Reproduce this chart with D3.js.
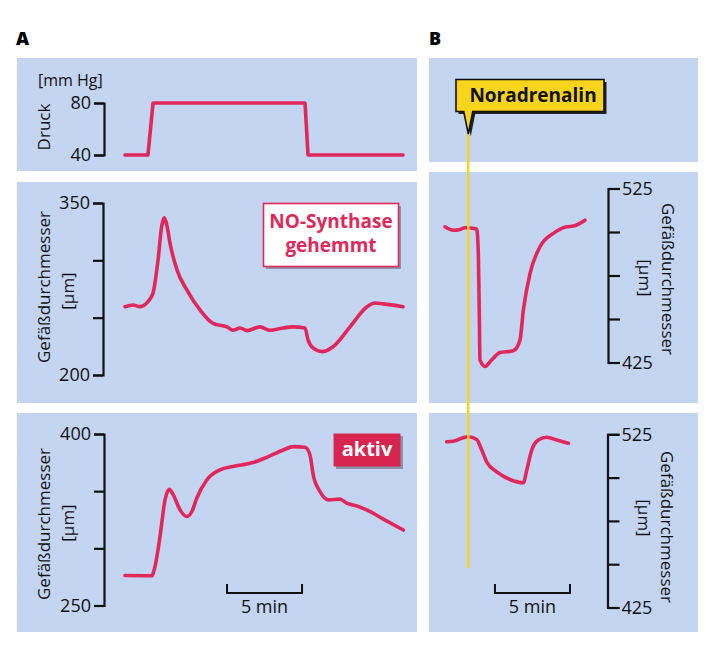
<!DOCTYPE html>
<html><head><meta charset="utf-8">
<script src="https://cdn.jsdelivr.net/npm/d3@7"></script>
<style>body{margin:0;background:#fff}svg{display:block}</style>
</head><body>
<svg id="c" width="721" height="652"></svg>
<script>
// ---------- DATA ----------
// time in minutes, values in units of the axes
const pressureTime  = [0, 1.53, 1.87, 12.0, 12.2, 18.53];
const pressureValue = [40, 40, 80, 80, 40, 40];
const pressureTicks = [40, 80];

const aInhibitedTime  = [0,0.53,1.0,1.53,1.87,2.2,2.45,2.62,2.8,3.0,3.47,4.13,5.0,5.87,6.8,7.2,7.67,8.13,9.0,9.67,10.53,11.2,12.0,12.2,12.53,13.13,13.87,15.0,16.13,16.67,17.2,18.53];
const aInhibitedValue = [259.6,261,259.6,264,271.5,300,330,337,330,315,291.5,274,256.7,245,242,239,241,238.7,242,239,241,242,241,230.6,223.6,220.4,224.7,242,259.6,262.8,262,259.6];
const aInhibitedTicks = [200, 250, 300, 350];

const aActiveTime  = [0,1.78,2.0,2.33,2.67,2.95,3.22,3.67,4.11,4.45,4.78,5.45,6.33,7.2,8.53,9.45,10.55,11.22,12.0,12.33,12.55,13.0,13.55,14.33,14.78,15.45,16.11,17.22,18.55];
const aActiveValue = [276.2,276,284,310,342.4,351.7,346.7,333.6,327.8,332,343.8,359.8,368.6,371.5,375,379.6,386,389,388.4,381.6,364,349.6,342.4,343,339.5,337,333.6,325.5,316];
const aActiveTicks = [250, 300, 350, 400];

const bInhibitedTime  = [0,0.55,1.0,1.33,2.11,2.22,2.29,2.33,2.67,3.11,3.67,4.55,5.0,5.22,5.67,6.33,7.22,8.11,8.55,9.33];
const bInhibitedValue = [503,501,501.5,502.4,501.7,488,449.5,426.5,422.7,426.5,430.7,431.7,438,455,476.3,491.5,499.2,503,503.4,506.8];

const bActiveTime  = [0.11,0.55,1.11,1.55,2.11,2.45,2.78,3.45,4.33,5.22,5.45,5.78,6.22,6.78,7.45,8.22];
const bActiveValue = [520.7,521,522.7,523.6,522,515.9,509,503.3,498.9,497,504.3,515.9,521.7,523.3,521.7,519.8];
const bTicks = [425, 450, 475, 500, 525];

const noradrenalinTime = 1.55;
const aScaleBar = [6.8, 11.8];
const bScaleBar = [3.33, 8.33];

const yLabel = "Gefäßdurchmesser";
const yUnit = "[µm]";

// ---------- STYLE ----------
const FONT = "'Open Sans','Noto Sans',sans-serif";
const WT = 500;
const BG = "#c4d5f1";
const RED = "#e2275b";
const YEL = "#f8d41c";

const svg = d3.select("#c");
svg.append("rect").attr("width",721).attr("height",652).attr("fill","#fff");

// panels
const panels = [
  [17,58,400,113],[17,182,400,221],[17,413,400,219],
  [429,58,269,104],[429,172,269,231],[429,413,269,219]
];
panels.forEach(p=>svg.append("rect").attr("x",p[0]).attr("y",p[1]).attr("width",p[2]).attr("height",p[3]).attr("fill",BG));

// panel letters
svg.append("text").attr("x",16).attr("y",45).text("A").attr("font-family",FONT).attr("font-weight",800).attr("font-size",18);
svg.append("text").attr("x",429).attr("y",45).text("B").attr("font-family",FONT).attr("font-weight",800).attr("font-size",18);

// scales
const xA = d3.scaleLinear().domain([0, 18.53]).range([125, 403]);
const xB = d3.scaleLinear().domain([0, 9.33]).range([445, 585]);
const yP = d3.scaleLinear().domain([40, 80]).range([155, 103]);
const yA2 = d3.scaleLinear().domain([200, 350]).range([375, 203]);
const yA3 = d3.scaleLinear().domain([250, 400]).range([605.5, 434]);
const yB2 = d3.scaleLinear().domain([425, 525]).range([362.5, 188.5]);
const yB3 = d3.scaleLinear().domain([425, 525]).range([607.5, 434.3]);

function styleAxis(g){
  g.selectAll("path,line").attr("stroke","#111").attr("stroke-width",2.2);
  g.selectAll("text").attr("font-family",FONT).attr("font-weight",WT).attr("font-size",18).attr("fill","#111");
}
function leftAxis(y, ticks, x){
  const ends = [d3.min(ticks), d3.max(ticks)];
  const ax = d3.axisLeft(y).tickValues(ticks).tickSize(10).tickSizeOuter(10).tickPadding(3)
    .tickFormat(d=> ends.includes(d) ? d : "");
  const g = svg.append("g").attr("transform",`translate(${x},0)`).call(ax);
  styleAxis(g);
}
function rightAxis(y, ticks, x){
  const ends = [d3.min(ticks), d3.max(ticks)];
  const ax = d3.axisRight(y).tickValues(ticks).tickSize(12).tickSizeOuter(12).tickPadding(2)
    .tickFormat(d=> ends.includes(d) ? d : "");
  const g = svg.append("g").attr("transform",`translate(${x},0)`).call(ax);
  styleAxis(g);
}
leftAxis(yP, pressureTicks, 104);
leftAxis(yA2, aInhibitedTicks, 103);
leftAxis(yA3, aActiveTicks, 104);
rightAxis(yB2, bTicks, 608);
rightAxis(yB3, bTicks, 607.5);

// axis titles
function rot(x, y, angle, txt, size, len){
  const t = svg.append("text").attr("transform",`translate(${x},${y}) rotate(${angle})`)
    .attr("text-anchor","middle").attr("font-family",FONT).attr("font-weight",WT).attr("font-size",size).attr("fill","#111").text(txt);
  if(len) t.attr("textLength",len).attr("lengthAdjust","spacingAndGlyphs");
  return t;
}
svg.append("text").attr("x",38).attr("y",86).attr("font-family",FONT).attr("font-weight",WT).attr("font-size",16).attr("fill","#111").text("[mm Hg]");
rot(50, 127, -90, "Druck", 17);
rot(50, 287, -90, yLabel, 17, 152);
rot(74, 291, -90, yUnit, 17);
rot(50, 524, -90, yLabel, 17, 152);
rot(74, 523, -90, yUnit, 17);
rot(662, 279, 90, yLabel, 17, 152);
rot(639, 278, 90, yUnit, 17);
rot(661, 527, 90, yLabel, 17, 152);
rot(638, 518, 90, yUnit, 17);

// curves
function curve(xs, ys, xsc, ysc, curveType){
  const pts = xs.map((t,i)=>[t, ys[i]]);
  const line = d3.line().x(d=>xsc(d[0])).y(d=>ysc(d[1])).curve(curveType);
  svg.append("path").attr("d", line(pts)).attr("fill","none").attr("stroke",RED)
    .attr("stroke-width",3.6).attr("stroke-linejoin","round").attr("stroke-linecap","round");
}
curve(pressureTime, pressureValue, xA, yP, d3.curveLinear);
curve(aInhibitedTime, aInhibitedValue, xA, yA2, d3.curveMonotoneX);
curve(aActiveTime, aActiveValue, xA, yA3, d3.curveMonotoneX);
curve(bInhibitedTime, bInhibitedValue, xB, yB2, d3.curveMonotoneX);
curve(bActiveTime, bActiveValue, xB, yB3, d3.curveMonotoneX);

// scale bars
function scaleBar(xsc, range){
  const x0 = xsc(range[0]), x1 = xsc(range[1]);
  svg.append("path").attr("d",`M${x0},584V593H${x1}V584`).attr("fill","none").attr("stroke","#111").attr("stroke-width",2);
  svg.append("text").attr("x",(x0+x1)/2).attr("y",613).attr("text-anchor","middle")
    .attr("font-family",FONT).attr("font-weight",WT).attr("font-size",18).attr("fill","#111").text("5 min");
}
scaleBar(xA, aScaleBar);
scaleBar(xB, bScaleBar);

// annotation boxes
function box(x,y,w,h,fill,stroke,shadow,sdx){
  svg.append("rect").attr("x",x+sdx).attr("y",y+sdx).attr("width",w).attr("height",h).attr("fill",shadow);
  svg.append("rect").attr("x",x).attr("y",y).attr("width",w).attr("height",h).attr("fill",fill)
    .attr("stroke",stroke).attr("stroke-width",stroke==="none"?0:1.6);
}
box(263.5,203.5,135,63,"#fff",RED,"#8a93a8",2.5);
const t1 = svg.append("text").attr("text-anchor","middle").attr("font-family",FONT).attr("font-weight",700)
  .attr("font-size",19).attr("fill",RED);
t1.append("tspan").attr("x",331).attr("y",228).text("NO-Synthase");
t1.append("tspan").attr("x",331).attr("y",252).text("gehemmt");

box(333.5,433.5,67,33,"#d8254f","none","#8a93a8",2.5);
svg.append("text").attr("x",367).attr("y",456).attr("text-anchor","middle").attr("font-family",FONT)
  .attr("font-weight",700).attr("font-size",20).attr("fill","#fff").text("aktiv");

// noradrenalin marker
const nx = xB(noradrenalinTime);
svg.append("line").attr("x1",nx).attr("x2",nx).attr("y1",130).attr("y2",568)
  .attr("stroke",YEL).attr("stroke-width",2.4);
const cp = `M456,79.5H604V111.5H${nx+4.5}L${nx},134L${nx-4.5},111.5H456Z`;
svg.append("path").attr("d",cp).attr("transform","translate(2.5,2.5)").attr("fill","#222");
svg.append("path").attr("d",cp).attr("fill",YEL).attr("stroke","#111").attr("stroke-width",1.6);
svg.append("text").attr("x",533).attr("y",102).attr("text-anchor","middle").attr("font-family",FONT)
  .attr("font-weight",700).attr("font-size",19).attr("fill","#111").text("Noradrenalin");
</script>
</body></html>
